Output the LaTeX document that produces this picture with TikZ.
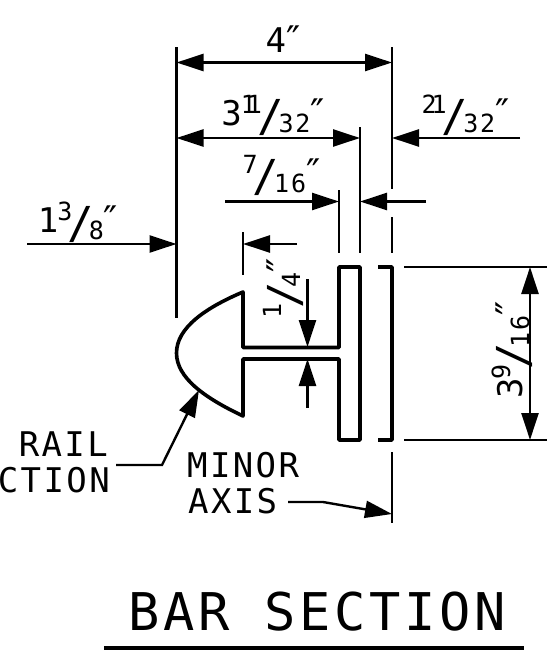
\documentclass[tikz,border=0pt]{standalone}
\usepackage{fontspec}
\setmainfont[LetterSpace=7]{DejaVu Sans Mono}
\newfontfamily\inchfont{DejaVu Sans}
\usetikzlibrary{arrows.meta}

\newcommand{\inchmark}{\raisebox{-1pt}{\inchfont\fontsize{38}{38}\selectfont ″}}
\newcommand{\sizedtext}[2]{{\fontsize{#1}{#1}\selectfont #2}}
\newcommand{\dimfrac}[3]{#1\kern-1pt\raisebox{12pt}{\sizedtext{25}{#2}}\kern-5pt\raisebox{-6pt}{\sizedtext{44}{/}}\kern-5pt\raisebox{-7pt}{\sizedtext{25}{#3}}\inchmark}
\tikzset{
    dimtext/.style={inner sep=0pt,font=\fontsize{34}{34}\selectfont},
    thinline/.style={line width=2.4pt},
    partline/.style={line width=3.6pt,line join=round},
}

\begin{document}
\begin{tikzpicture}[x=1pt,y=-1pt,>={Triangle[length=27pt,width=17pt]},thinline]
    \useasboundingbox (0,0) rectangle (552,654);
    \clip (0,0) rectangle (552,654);
    % witness lines
    \coordinate (L0) at (176.5,47);
    \coordinate (L1) at (176.5,318);
    \coordinate (R0) at (392,47);
    \coordinate (R1) at (392,189);
    \coordinate (R2) at (392,217);
    \coordinate (R3) at (392,253);
    \coordinate (R4) at (392,452);
    \coordinate (R5) at (392,523);
    \coordinate (M0) at (360,127);
    \coordinate (M1) at (360,253);
    \coordinate (F0) at (339,190);
    \coordinate (F1) at (339,253);
    \coordinate (H0) at (243,232);
    \coordinate (H1) at (243,275);
    \coordinate (T0) at (404,267);
    \coordinate (T1) at (547,267);
    \coordinate (B0) at (404,440);
    \coordinate (B1) at (547,440);
    \path (L0) edge (L1) (R0) edge (R1) (R2) edge (R3) (R4) edge (R5)
        (M0) edge (M1) (F0) edge (F1) (H0) edge (H1) (T0) edge (T1) (B0) edge (B1);
    % horizontal dimensions
    \coordinate (A0) at (176.5,62.5);
    \coordinate (A1) at (392,62.5);
    \coordinate (C0) at (176.5,138);
    \coordinate (C1) at (360,138);
    \coordinate (D0) at (520,138);
    \coordinate (D1) at (392,138);
    \coordinate (E0) at (225,201.5);
    \coordinate (E1) at (339,201.5);
    \coordinate (G0) at (426,201.5);
    \coordinate (G1) at (360,201.5);
    \coordinate (I0) at (27,244);
    \coordinate (I1) at (176.5,244);
    \coordinate (J0) at (297,244);
    \coordinate (J1) at (243,244);
    \path (A0) edge[<->] (A1) (C0) edge[<->] (C1) (D0) edge[->] (D1)
        (E0) edge[->] (E1) (G0) edge[->] (G1) (I0) edge[->] (I1) (J0) edge[->] (J1);
    % vertical dimensions
    \coordinate (K0) at (530,267);
    \coordinate (K1) at (530,440);
    \coordinate (N0) at (307.5,279);
    \coordinate (N1) at (307.5,347);
    \coordinate (P0) at (307.5,408);
    \coordinate (P1) at (307.5,359);
    \path (K0) edge[<->] (K1) (N0) edge[->] (N1) (P0) edge[->] (P1);
    % bar
    \draw[partline] (243,292) .. controls (205,308) and (176.5,328) .. (176.5,353)
        .. controls (176.5,378) and (205,398) .. (243,416)
        -- (243,359) -- (339,359) -- (339,440) -- (360,440) -- (360,267) -- (339,267)
        -- (339,347.5) -- (243,347.5) -- cycle;
    \draw[partline] (378,267) -- (392,267) -- (392,440) -- (378,440);
    % leaders
    \coordinate (Q0) at (116,465);
    \coordinate (Q1) at (162,465);
    \coordinate (Q2) at (199,390);
    \coordinate (S0) at (288,502);
    \coordinate (S1) at (323,502);
    \coordinate (S2) at (392,514);
    \draw[->] (Q0) -- (Q1) -- (Q2);
    \draw[->] (S0) -- (S1) -- (S2);
    % labels
    \node[dimtext](w4)at(283,40){4\inchmark};
    \node[dimtext](w311)at(273,115){\dimfrac{3}{1\kern-9pt 1}{32}};
    \node[dimtext](w21)at(466,115){\dimfrac{}{2\kern-5pt 1}{32}};
    \node[dimtext](w7)at(282,175){\dimfrac{}{7}{16}};
    \node[dimtext](w13)at(78,222){\dimfrac{1}{3}{8}};
    \node[dimtext,rotate=90](w14)at(283,288){\dimfrac{}{1}{4}};
    \node[dimtext,rotate=90](w39)at(512,350){\dimfrac{3}{9}{16}};
    \node[dimtext,anchor=east](rail)at(109,444){RAIL};
    \node[dimtext,anchor=east](ction)at(111,480){CTION};
    \node[dimtext,anchor=west](minor)at(186,465){MINOR};
    \node[dimtext,anchor=west](axis)at(187,501){AXIS};
    \node[inner sep=0pt,font=\fontsize{52}{52}\selectfont](title)at(317,612){BAR SECTION};
    \coordinate (U0) at (104,648);
    \coordinate (U1) at (524,648);
    \draw[partline] (U0) -- (U1);
\end{tikzpicture}
\end{document}
